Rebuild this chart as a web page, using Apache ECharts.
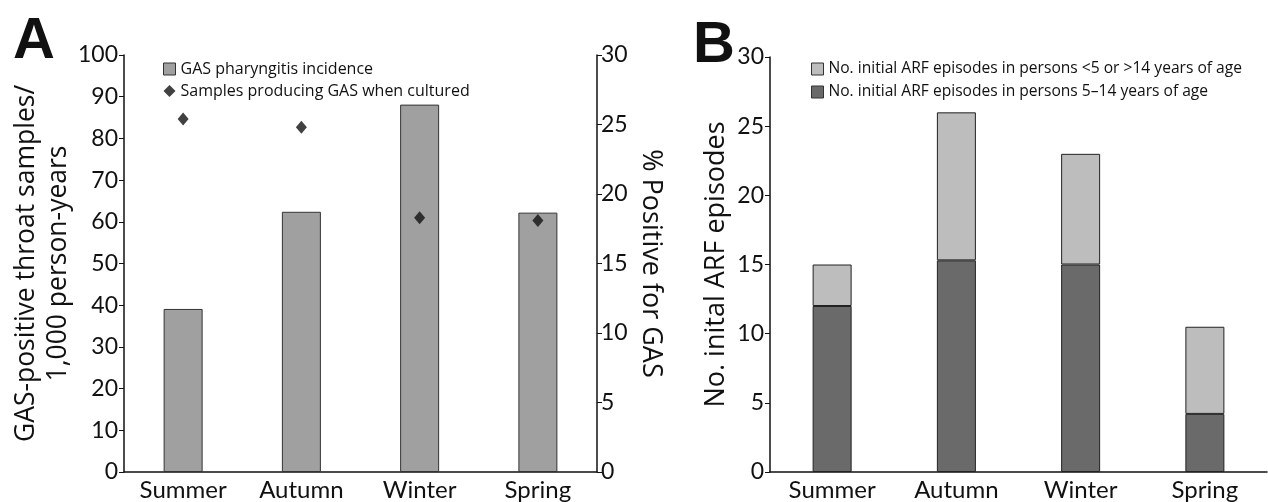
<!DOCTYPE html>
<html>
<head>
<meta charset="utf-8">
<script src="https://cdn.jsdelivr.net/npm/echarts@6/dist/echarts.min.js"></script>
<style>
html,body{margin:0;padding:0;background:#fff;}
#chart{width:1268px;height:502px;}
</style>
</head>
<body>
<div id="chart"></div>
<script>
// Seasons shared by both panels
const seasons = ['Summer', 'Autumn', 'Winter', 'Spring'];

// Panel A: incidence per 1,000 person-years and % of cultured samples positive
const incidence = [39.1, 62.4, 88.1, 62.2];
const pctPositive = [25.4, 24.8, 18.3, 18.1];

// Panel B: initial ARF episodes split by age group
const arfAge5to14 = [12, 15.3, 15, 4.2];
const arfOtherAges = [3, 10.7, 8, 6.3];

const leftTicks = [0, 100, 10];
const rightTicks = [0, 30, 5];
const arfTicks = [0, 30, 5];

const FONT = 'Lato';
const TEXT_FONT = 'Open Sans';
const chart = echarts.init(document.getElementById('chart'));

const axisLine = { show: true, lineStyle: { color: '#111', width: 1.5 } };
const tickLabel = { color: '#111', fontSize: 23, fontFamily: FONT };

chart.setOption({
  animation: false,
  backgroundColor: '#fff',
  title: [
    { text: 'A', left: 8, top: 8, textStyle: { fontSize: 58, fontWeight: 'bold', fontFamily: 'Liberation Sans', color: '#111' } },
    { text: 'B', left: 688, top: 12, textStyle: { fontSize: 58, fontWeight: 'bold', fontFamily: 'Liberation Sans', color: '#111' } }
  ],
  legend: [
    {
      orient: 'vertical', left: 158, top: 56, itemGap: 6, itemWidth: 12, itemHeight: 12,
      textStyle: { fontSize: 16, fontFamily: TEXT_FONT, color: '#111', padding: [0, 0, 0, 0] },
      data: [
        { name: 'GAS pharyngitis incidence', icon: 'rect', itemStyle: { color: '#a0a0a0', borderColor: '#333', borderWidth: 1 } },
        { name: 'Samples producing GAS when cultured', icon: 'diamond', itemStyle: { color: '#111' } }
      ]
    },
    {
      orient: 'vertical', left: 806, top: 56, itemGap: 7, itemWidth: 12, itemHeight: 12,
      textStyle: { fontSize: 15.6, fontFamily: TEXT_FONT, color: '#111', padding: [0, 0, 0, 0] },
      data: [
        { name: 'No. initial ARF episodes in persons <5 or >14 years of age', icon: 'rect', itemStyle: { color: '#bdbdbd', borderColor: '#333', borderWidth: 1 } },
        { name: 'No. initial ARF episodes in persons 5–14 years of age', icon: 'rect', itemStyle: { color: '#6a6a6a', borderColor: '#333', borderWidth: 1 } }
      ]
    }
  ],
  grid: [
    { left: 124, width: 473, top: 55, height: 419 },
    { left: 770, width: 497, top: 57, height: 417 }
  ],
  xAxis: [
    {
      type: 'category', gridIndex: 0, data: seasons,
      axisLine: axisLine, axisTick: { show: false },
      axisLabel: { color: '#111', fontSize: 24, fontFamily: FONT, margin: 6 }
    },
    {
      type: 'category', gridIndex: 1, data: seasons,
      axisLine: axisLine, axisTick: { show: false },
      axisLabel: { color: '#111', fontSize: 24, fontFamily: FONT, margin: 6 }
    }
  ],
  yAxis: [
    {
      type: 'value', gridIndex: 0, min: leftTicks[0], max: leftTicks[1], interval: leftTicks[2],
      axisLine: axisLine, axisTick: { show: true, length: 5, lineStyle: { color: '#111' } },
      axisLabel: Object.assign({ margin: 6 }, tickLabel), splitLine: { show: false },
      name: 'GAS-positive throat samples/\n1,000 person-years', nameLocation: 'middle', nameGap: 46,
      nameTextStyle: { fontSize: 26.5, fontFamily: TEXT_FONT, color: '#111', lineHeight: 32 }
    },
    {
      type: 'value', gridIndex: 0, position: 'right', min: rightTicks[0], max: rightTicks[1], interval: rightTicks[2],
      axisLine: axisLine, axisTick: { show: true, length: 5, inside: false, lineStyle: { color: '#111' } },
      axisLabel: Object.assign({ margin: 4 }, tickLabel), splitLine: { show: false },
      name: '% Positive for GAS', nameLocation: 'middle', nameGap: 40, nameRotate: -90,
      nameTextStyle: { fontSize: 27, fontFamily: TEXT_FONT, color: '#111' }
    },
    {
      type: 'value', gridIndex: 1, min: arfTicks[0], max: arfTicks[1], interval: arfTicks[2],
      axisLine: axisLine, axisTick: { show: true, length: 5, lineStyle: { color: '#111' } },
      axisLabel: Object.assign({ margin: 6 }, tickLabel), splitLine: { show: false },
      name: 'No. inital ARF episodes', nameLocation: 'middle', nameGap: 40,
      nameTextStyle: { fontSize: 27, fontFamily: TEXT_FONT, color: '#111' }
    }
  ],
  series: [
    {
      name: 'GAS pharyngitis incidence', type: 'bar', xAxisIndex: 0, yAxisIndex: 0,
      data: incidence, barWidth: 39,
      itemStyle: { color: '#a0a0a0', borderColor: '#333', borderWidth: 1 }
    },
    {
      name: 'Samples producing GAS when cultured', type: 'scatter', xAxisIndex: 0, yAxisIndex: 1,
      data: pctPositive, symbol: 'diamond', symbolSize: [11, 13],
      itemStyle: { color: '#111' }, z: 5
    },
    {
      name: 'No. initial ARF episodes in persons 5–14 years of age', type: 'bar', xAxisIndex: 1, yAxisIndex: 2,
      stack: 'arf', data: arfAge5to14, barWidth: 39,
      itemStyle: { color: '#6a6a6a', borderColor: '#222', borderWidth: 1 }
    },
    {
      name: 'No. initial ARF episodes in persons <5 or >14 years of age', type: 'bar', xAxisIndex: 1, yAxisIndex: 2,
      stack: 'arf', data: arfOtherAges, barWidth: 39,
      itemStyle: { color: '#bdbdbd', borderColor: '#222', borderWidth: 1 }
    }
  ]
});
</script>
</body>
</html>
